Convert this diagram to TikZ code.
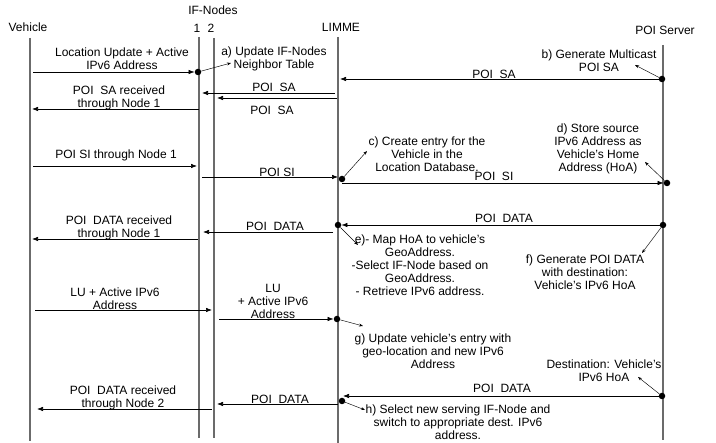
\documentclass[tikz,border=0pt]{standalone}
\usepackage{fontspec}
\setmainfont{Liberation Sans}
\usetikzlibrary{arrows.meta}

\begin{document}
\begin{tikzpicture}[x=1pt,y=-1pt,font=\fontsize{12}{13}\selectfont]
% Define styles
\tikzstyle{title}=[inner sep=0pt]
\tikzstyle{msgtext}=[align=center, inner sep=0pt]
\tikzstyle{lifeline}=[line width=2.8pt, draw=black!58]
\tikzstyle{msg}=[-{Latex[length=6pt,width=4.5pt]}, line width=0.6pt]
\tikzstyle{notearrow}=[-{Stealth[length=4pt,width=3pt]}, line width=0.45pt]
\tikzstyle{endpoint}=[circle, fill=black, inner sep=0pt, minimum size=6.5pt]

\useasboundingbox (0,0) rectangle (716,443);

% Draw headers
\node[title] (vehicle) at (28,27) {Vehicle};
\node[title] (ifnodes) at (213,10) {IF-Nodes};
\node[title] (ifone) at (197,28) {1};
\node[title] (iftwo) at (211,28) {2};
\node[title] (limme) at (341,27) {LIMME};
\node[title] (poiserver) at (665,30) {POI Server};

% Draw lifelines
\foreach \name/\x/\top/\bot in {veh/30/38/441, ifa/199/37/438, ifb/214/38/438, lim/338/37/443, poi/663/45/440}{
  \coordinate (\name top) at (\x,\top);
  \coordinate (\name bot) at (\x,\bot);
  \draw[lifeline] (\name top) -- (\name bot);
}

% Location update to IF-Node 1
\coordinate (luA) at (33,72);
\node[endpoint] (dotA) at (198,72) {};
\draw[msg] (luA) -- (dotA.west);
\node[msgtext] (luAtext) at (122,59) {Location Update + Active\\IPv6 Address};
\node[msgtext] (noteA) at (274,59) {a) Update IF-Nodes\\Neighbor Table};
\coordinate (noteAtip) at (231,63);
\draw[notearrow] (dotA) -- (noteAtip);

% POI SA from the server
\node[endpoint] (dotB) at (662,79) {};
\coordinate (saLim) at (340,79);
\draw[msg] (dotB) -- (saLim);
\node[msgtext] (saText) at (494,74.5) {POI~~SA};
\node[msgtext] (noteB) at (599,61) {b) Generate Multicast\\POI SA};
\coordinate (noteBtip) at (635,65);
\draw[notearrow] (dotB) -- (noteBtip);

% POI SA to the IF-Nodes
\coordinate (saOneS) at (335,93);
\coordinate (saOneE) at (202,93);
\draw[msg] (saOneS) -- (saOneE);
\node[msgtext] (saOneText) at (274,87) {POI~~SA};
\coordinate (saTwoS) at (337,98);
\coordinate (saTwoE) at (217,98);
\draw[msg] (saTwoS) -- (saTwoE);
\node[msgtext] (saTwoText) at (272,110) {POI~~SA};
\coordinate (saVehS) at (199,109);
\coordinate (saVehE) at (32,109);
\draw[msg] (saVehS) -- (saVehE);
\node[msgtext] (saVehText) at (119,97.5) {POI~~SA received\\through Node 1};

% POI SI
\coordinate (siVehS) at (33,166);
\coordinate (siVehE) at (197,166);
\draw[msg] (siVehS) -- (siVehE);
\node[msgtext] (siVehText) at (116,155) {POI SI through Node 1};
\coordinate (siOneS) at (202,177);
\coordinate (siOneE) at (338,177);
\node[endpoint] (dotC) at (342,179) {};
\draw[msg] (siOneS) -- (siOneE);
\node[msgtext] (siOneText) at (277,172) {POI SI};
\coordinate (siLimS) at (342,183);
\node[endpoint] (dotD) at (667,183) {};
\draw[msg] (siLimS) -- (dotD.west);
\node[msgtext] (siLimText) at (494,176) {POI~~SI};
\node[msgtext] (noteC) at (427,154) {c) Create entry for the\\Vehicle in the\\Location Database.};
\coordinate (noteCtip) at (367,151);
\draw[notearrow] (dotC) -- (noteCtip);
\node[msgtext] (noteD) at (598,149) {d) Store source\\IPv6 Address as\\Vehicle's Home\\Address (HoA)};
\coordinate (noteDtip) at (645,162);
\draw[notearrow] (dotD) -- (noteDtip);

% POI DATA through Node 1
\node[endpoint] (dotF) at (663,225) {};
\node[endpoint] (dotE) at (338,225) {};
\draw[msg] (dotF) -- (dotE.east);
\node[msgtext] (dataLimText) at (504,218.5) {POI~~DATA};
\node[msgtext] (noteF) at (585,272) {f) Generate POI DATA\\with destination:\\Vehicle's IPv6 HoA};
\coordinate (noteFtip) at (642,253);
\draw[notearrow] (dotF) -- (noteFtip);
\node[msgtext] (noteE) at (420,265.5) {e)- Map HoA to vehicle's\\GeoAddress.\\-Select IF-Node based on\\GeoAddress.\\- Retrieve IPv6 address.};
\coordinate (noteEtip) at (358,245);
\draw[notearrow] (dotE) -- (noteEtip);
\coordinate (dataOneS) at (333,232);
\coordinate (dataOneE) at (203,232);
\draw[msg] (dataOneS) -- (dataOneE);
\node[msgtext] (dataOneText) at (275,226) {POI~~DATA};
\coordinate (dataVehS) at (198,239);
\coordinate (dataVehE) at (32,239);
\draw[msg] (dataVehS) -- (dataVehE);
\node[msgtext] (dataVehText) at (119,227.5) {POI~~DATA received\\through Node 1};

% Location update through Node 2
\coordinate (luBS) at (35,310);
\coordinate (luBE) at (212,310);
\draw[msg] (luBS) -- (luBE);
\node[msgtext] (luBText) at (115,298.5) {LU + Active IPv6\\Address};
\coordinate (luCS) at (219,319);
\node[endpoint] (dotG) at (337,319) {};
\draw[msg] (luCS) -- (dotG.west);
\node[msgtext] (luCText) at (273,301) {LU\\+ Active IPv6\\Address};
\node[msgtext] (noteG) at (433,351) {g) Update vehicle's entry with\\geo-location and new IPv6\\Address};
\coordinate (noteGtip) at (363,326);
\draw[notearrow] (dotG) -- (noteGtip);

% POI DATA through Node 2
\node[endpoint] (dotI) at (662,396) {};
\coordinate (dataLimE) at (343,396);
\draw[msg] (dotI) -- (dataLimE);
\node[msgtext] (dataTwoLimText) at (502,388) {POI~~DATA};
\node[msgtext] (noteDest) at (604,371) {Destination: Vehicle's\\IPv6 HoA};
\coordinate (noteDesttip) at (638,377);
\draw[notearrow] (dotI) -- (noteDesttip);
\node[endpoint] (dotH) at (342,401) {};
\coordinate (dataTwoS) at (338,404);
\coordinate (dataTwoE) at (217,404);
\draw[msg] (dataTwoS) -- (dataTwoE);
\node[msgtext] (dataTwoText) at (280,399) {POI~~DATA};
\node[msgtext] (noteH) at (458,422) {h) Select new serving IF-Node and\\switch to appropriate dest. IPv6\\address.};
\coordinate (noteHtip) at (365,410);
\draw[notearrow] (dotH) -- (noteHtip);
\coordinate (dataVehTwoS) at (212,409);
\coordinate (dataVehTwoE) at (37,409);
\draw[msg] (dataVehTwoS) -- (dataVehTwoE);
\node[msgtext] (dataVehTwoText) at (123,398) {POI~~DATA received\\through Node 2};
\end{tikzpicture}
\end{document}
